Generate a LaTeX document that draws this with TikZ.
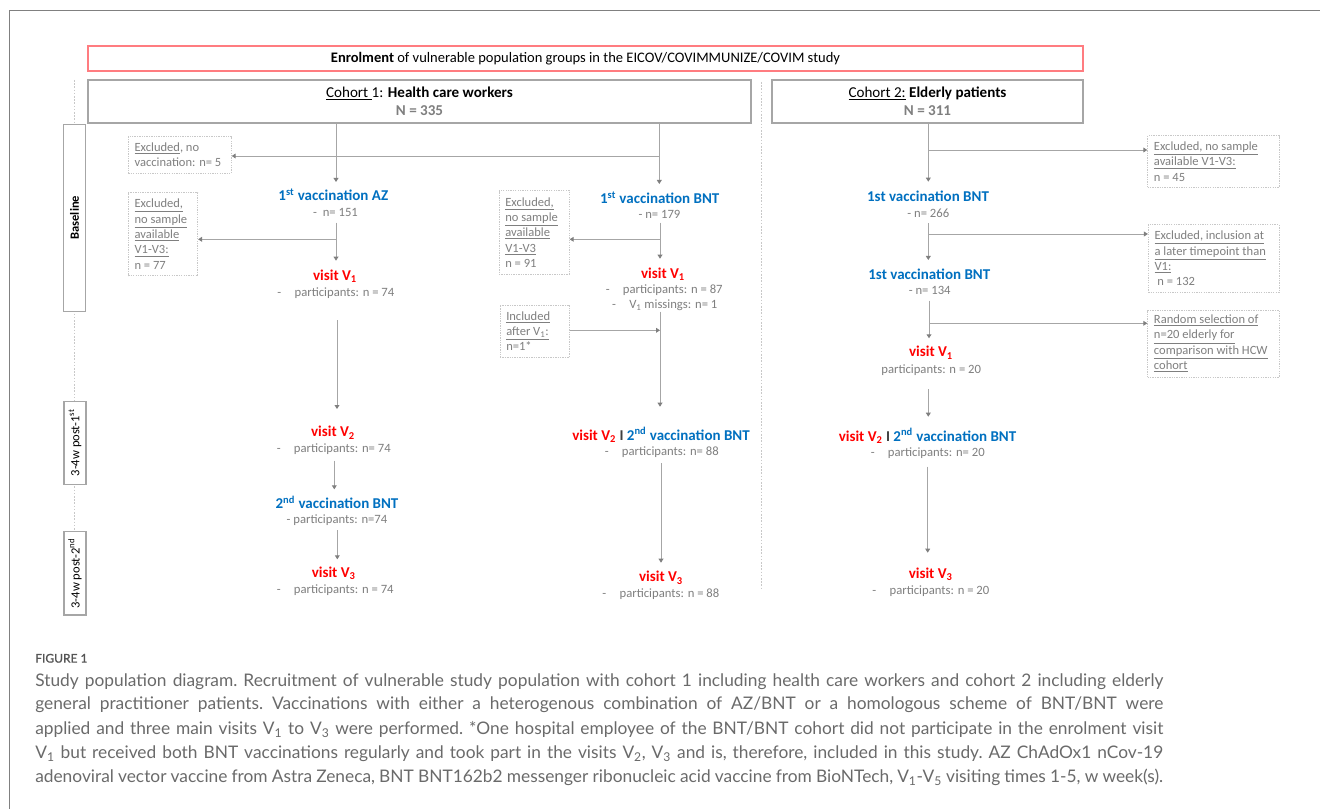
\documentclass[tikz,border=0pt]{standalone}
\usepackage{fontspec}
\setmainfont{Carlito}
\newfontfamily\capfont{Lato}
\usetikzlibrary{arrows.meta}
\definecolor{cblue}{HTML}{0070C0}
\definecolor{cred}{HTML}{FF0000}
\definecolor{tgray}{HTML}{7F7F7F}
\definecolor{lgray}{HTML}{A6A6A6}
\definecolor{xgray}{HTML}{C8C8C8}
\definecolor{boxred}{HTML}{FF7C80}
\definecolor{capgray}{HTML}{6A6A6A}
\definecolor{figgray}{HTML}{555555}
\definecolor{framec}{HTML}{808080}
\definecolor{sepc}{HTML}{3F3F3F}
\newcommand{\myul}[1]{\underline{#1}}
\newcommand{\dsh}{-\hspace{10pt}}
\begin{document}
\begin{tikzpicture}[x=0.75pt,y=-0.75pt,
  conn/.style={draw=lgray, line width=0.7pt},
  arr/.style={conn, -{Triangle[length=3pt,width=3.6pt,color=tgray]}},
  dotc/.style={draw=xgray, line width=0.7pt, dash pattern=on 1.2pt off 1.2pt},
  bl/.style={inner sep=0pt, font=\fontsize{11.25}{13}\selectfont\bfseries},
  vac/.style={bl, text=cblue},
  vis/.style={bl, text=cred},
  gt/.style={inner sep=0pt, text=tgray, font=\fontsize{9.5}{11}\selectfont},
  gtw/.style={gt, anchor=west},
  xbox/.style={draw=xgray, dash pattern=on 1pt off 0.8pt, line width=0.6pt, inner sep=0pt},
  xtxt/.style={inner sep=0pt, anchor=west, text=tgray, font=\fontsize{9.4}{11.5}\selectfont, align=left},
  cbox/.style={draw=lgray, line width=1pt, inner sep=0pt},
  tbox/.style={draw=lgray, line width=0.8pt, fill=white, rotate=90, inner sep=0pt, minimum height=16.5pt, font=\fontsize{9.4}{11}\selectfont},
  capfig/.style={inner sep=0pt, anchor=west, text=figgray, font=\capfont\fontsize{9}{12}\selectfont\addfontfeature{FakeBold=1.2}},
  captx/.style={inner sep=0pt, anchor=west, text=capgray, font=\capfont\fontsize{13}{15}\selectfont\frenchspacing}
]
\useasboundingbox (0,0) rectangle (1320,809);
\fill[white] (0,0) rectangle (1320,809);
% outer frame
\draw[framec, line width=1.1pt] (9.5,809) -- (9.5,10.5) -- (1320,10.5);

% timeline
\coordinate (tl0) at (74,80);
\coordinate (tl1) at (74,532);
\draw[dotc] (tl0) -- (tl1);
\node[tbox, minimum width=140pt] (tBase) at (74.5,217.7) {\bfseries Baseline};
\node[tbox, minimum width=62.5pt] (tP1) at (75,442.7) {3-4w post-1\textsuperscript{st}};
\node[tbox, minimum width=62.5pt] (tP2) at (75,573.3) {3-4w post-2\textsuperscript{nd}};

% separator
\coordinate (sep0) at (761,82);
\coordinate (sep1) at (761,588);
\draw[dotc] (sep0) -- (sep1);

% header boxes
\node[cbox, draw=boxred, minimum width=746.25pt, minimum height=18.75pt, font=\fontsize{10.9}{13}\selectfont] (enr) at (585.5,58.5)
  {\textbf{Enrolment} of vulnerable population groups in the EICOV/COVIMMUNIZE/COVIM study};
\node[cbox, minimum width=497.25pt, minimum height=32.25pt, align=center, font=\fontsize{11.3}{13.7}\selectfont] (c1) at (419.5,101.5)
  {\myul{Cohort\ }1: \textbf{Health care workers}\\ \textcolor{tgray}{\textbf{N = 335}}};
\node[cbox, minimum width=233.25pt, minimum height=32.25pt, align=center, font=\fontsize{11.3}{13.7}\selectfont] (c2) at (927.5,101.5)
  {\myul{Cohort 2:} \textbf{Elderly patients}\\ \textcolor{tgray}{\textbf{N = 311}}};

% exclusion boxes
\node[xbox, minimum width=77.25pt, minimum height=27.45pt] (ex1) at (179.8,155) {};
\node[xtxt] (ex1t) at ([xshift=4.8pt]ex1.west) {\myul{Excluded}, no\\ vaccination: n= 5};
\node[xbox, minimum width=52.05pt, minimum height=62.25pt] (ex2) at (163,234.2) {};
\node[xtxt] (ex2t) at ([xshift=4.8pt]ex2.west) {\myul{Excluded,}\\ \myul{no sample}\\ \myul{available}\\ \myul{V1-V3:}\\ n = 77};
\node[xbox, minimum width=52.7pt, minimum height=62.5pt] (ex3) at (534.15,232.35) {};
\node[xtxt] (ex3t) at ([xshift=4.8pt]ex3.west) {\myul{Excluded,}\\ \myul{no sample}\\ \myul{available}\\ \myul{V1-V3}\\ n = 91};
\node[xbox, minimum width=52pt, minimum height=39.2pt] (inc) at (534.65,331.15) {};
\node[xtxt] (inct) at ([xshift=4.8pt]inc.west) {\myul{Included}\\ \myul{after V\textsubscript{1}:}\\ n=1*};
\node[xbox, minimum width=98.5pt, minimum height=38.7pt] (ex4) at (1213.35,161.5) {};
\node[xtxt] (ex4t) at ([xshift=4.8pt]ex4.west) {\myul{Excluded, no sample}\\ \myul{available V1-V3:}\\ n = 45};
\node[xbox, minimum width=98pt, minimum height=50.7pt] (ex5) at (1213.65,258.5) {};
\node[xtxt] (ex5t) at ([xshift=4.8pt]ex5.west) {\myul{Excluded, inclusion at}\\ \myul{a later timepoint than}\\ \myul{V1:}\\ \ n = 132};
\node[xbox, minimum width=98.5pt, minimum height=50.5pt] (ex6) at (1213.35,343.65) {};
\node[xtxt] (ex6t) at ([xshift=4.8pt]ex6.west) {\myul{Random selection of}\\ \myul{n=20 elderly for}\\ \myul{comparison with HCW}\\ \myul{cohort}};

% ---------- AZ branch
\node[vac] (az1) at (333.3,195) {1\textsuperscript{st} vaccination AZ};
\node[gt] (az1n) at (335.5,212) {-\ \ n= 151};
\node[vis] (azv1) at (335,276) {visit V\textsubscript{1}};
\node[gtw] (azv1p) at (277.2,292.7) {\dsh participants: n = 74};
\node[vis] (azv2) at (333,432.7) {visit V\textsubscript{2}};
\node[gtw] (azv2p) at (276.5,449.3) {\dsh participants: n= 74};
\node[vac] (az2) at (337,502.7) {2\textsuperscript{nd} vaccination BNT};
\node[gt] (az2p) at (337,520) {- participants: n=74};
\node[vis] (azv3) at (333.7,573.3) {visit V\textsubscript{3}};
\node[gtw] (azv3p) at (276.5,590.3) {\dsh participants: n = 74};

% ---------- BNT branch
\node[vac] (bn1) at (659.7,197.7) {1\textsuperscript{st} vaccination BNT};
\node[gt] (bn1n) at (659.5,214.3) {- n= 179};
\node[vis] (bnv1) at (663,274) {visit V\textsubscript{1}};
\node[gtw] (bnv1p) at (605.5,290) {\dsh participants: n = 87};
\node[gtw] (bnv1m) at (611.8,305.7) {\dsh V\textsubscript{1} missings: n= 1};
\node[bl] (bnv2) at (661,435) {\textcolor{cred}{visit V\textsubscript{2}} \textcolor{sepc}{I} \textcolor{cblue}{2\textsuperscript{nd} vaccination BNT}};
\node[gtw] (bnv2p) at (604.5,451.7) {\dsh participants: n= 88};
\node[vis] (bnv3) at (661,577.7) {visit V\textsubscript{3}};
\node[gtw] (bnv3p) at (602.2,594.3) {\dsh participants: n = 88};

% ---------- Cohort 2
\node[vac] (e1) at (928,196.7) {1st vaccination BNT};
\node[gt] (e1n) at (928.3,213.7) {- n= 266};
\node[vac] (e2) at (929.3,274) {1st vaccination BNT};
\node[gt] (e2n) at (929.7,290.7) {- n= 134};
\node[vis] (ev1) at (931,352.7) {visit V\textsubscript{1}};
\node[gt] (ev1p) at (931.2,370) {participants: n = 20};
\node[bl] (ev2) at (927.5,436) {\textcolor{cred}{visit V\textsubscript{2}} \textcolor{sepc}{I} \textcolor{cblue}{2\textsuperscript{nd} vaccination BNT}};
\node[gtw] (ev2p) at (870.5,452.7) {\dsh participants: n= 20};
\node[vis] (ev3) at (930.7,574.3) {visit V\textsubscript{3}};
\node[gtw] (ev3p) at (872.2,591) {\dsh participants: n = 20};

% ---------- connector points
\coordinate (a0) at (336,123);
\coordinate (a1) at (336,182);
\coordinate (a2) at (336,222.7);
\coordinate (a3) at (336,260.7);
\coordinate (ah) at (336,239.3);
\coordinate (a4) at (337,320);
\coordinate (a5) at (337,409);
\coordinate (a6) at (334.3,460.7);
\coordinate (a7) at (334.3,489.3);
\coordinate (a8) at (337.3,530);
\coordinate (a9) at (337.3,559.3);

\coordinate (b0) at (659.3,123);
\coordinate (bh0) at (659.3,156);
\coordinate (b1) at (659.3,184);
\coordinate (b2) at (660,222.7);
\coordinate (bh) at (660,239.3);
\coordinate (b3) at (660,258.7);
\coordinate (b4) at (660,311.7);
\coordinate (bi) at (660,330.3);
\coordinate (b5) at (660,406.7);
\coordinate (b6) at (661,463.3);
\coordinate (b7) at (661,562.7);

\coordinate (e0) at (928.3,123);
\coordinate (eh0) at (928.3,150);
\coordinate (e1a) at (928.3,181.7);
\coordinate (e2a) at (928.3,223.3);
\coordinate (eh1) at (928.3,234);
\coordinate (e3a) at (928.3,260);
\coordinate (e4a) at (929,300.7);
\coordinate (eh2) at (929,323.3);
\coordinate (e5a) at (929,338.3);
\coordinate (e6a) at (928.3,389.3);
\coordinate (e7a) at (928.3,416.7);
\coordinate (e8a) at (927.7,466.7);
\coordinate (e9a) at (927.7,552.7);

% AZ connectors
\draw[arr] (a0) -- (a1);
\draw[arr] (a2) -- (a3);
\draw[arr] (ah) -- (ex2.east |- ah);
\draw[arr] (a4) -- (a5);
\draw[arr] (a6) -- (a7);
\draw[arr] (a8) -- (a9);
% BNT connectors
\draw[arr] (b0) -- (b1);
\draw[arr] (bh0) -- (ex1.east |- bh0);
\draw[arr] (b2) -- (b3);
\draw[arr] (bh) -- (ex3.east |- bh);
\draw[arr] (b4) -- (b5);
\draw[arr] (inc.east |- bi) -- (bi);
\draw[arr] (b6) -- (b7);
% cohort 2 connectors
\draw[arr] (e0) -- (e1a);
\draw[arr] (eh0) -- (ex4.west |- eh0);
\draw[arr] (e2a) -- (e3a);
\draw[arr] (eh1) -- (ex5.west |- eh1);
\draw[arr] (e4a) -- (e5a);
\draw[arr] (eh2) -- (ex6.west |- eh2);
\draw[arr] (e6a) -- (e7a);
\draw[arr] (e8a) -- (e9a);

% caption
\node[capfig] (figt) at (35,658.3) {FIGURE 1};
\node[captx] (cap1) at (35,681.7) {\makebox[846pt][s]{Study population diagram. Recruitment of vulnerable study population with cohort 1 including health care workers and cohort 2 including elderly}};
\node[captx] (cap2) at (35,705) {\makebox[846pt][s]{general practitioner patients. Vaccinations with either a heterogenous combination of AZ/BNT or a homologous scheme of BNT/BNT were}};
\node[captx] (cap3) at (35,729.3) {\makebox[846pt][s]{applied and three main visits V\textsubscript{1} to V\textsubscript{3} were performed. *One hospital employee of the BNT/BNT cohort did not participate in the enrolment visit}};
\node[captx] (cap4) at (35,753.3) {\makebox[846pt][s]{V\textsubscript{1} but received both BNT vaccinations regularly and took part in the visits V\textsubscript{2}, V\textsubscript{3} and is, therefore, included in this study. AZ ChAdOx1 nCov-19}};
\node[captx] (cap5) at (35,777.3) {\makebox[846pt][s]{adenoviral vector vaccine from Astra Zeneca, BNT BNT162b2 messenger ribonucleic acid vaccine from BioNTech, V\textsubscript{1}-V\textsubscript{5} visiting times 1-5, w week(s).}};
\end{tikzpicture}
\end{document}
